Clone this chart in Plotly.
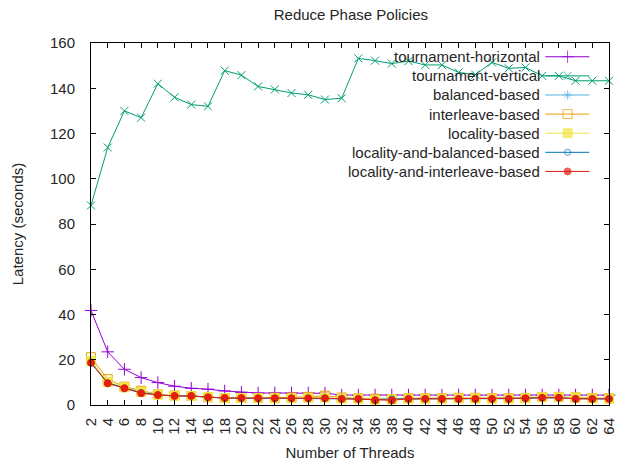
import plotly.graph_objects as go

threads = list(range(2, 65, 2))

tournament_horizontal = [41.8, 23.5, 15.8, 12.1, 9.9, 8.3, 7.4, 7.0, 6.2, 5.6, 5.3, 5.3, 5.3, 5.3, 5.2,
                         4.4, 4.4, 4.4, 4.4, 4.4, 4.4, 4.4, 4.4, 4.4, 4.4, 4.4, 4.4, 4.4, 4.4, 4.4, 4.4, 4.4]
tournament_vertical = [88.2, 113.8, 130.0, 127.0, 142.0, 136.0, 132.8, 132.0, 147.8, 145.8, 140.8, 139.5,
                       137.9, 137.1, 135.0, 135.6, 153.2, 152.2, 150.9, 152.0, 150.3, 150.3, 147.0, 146.0,
                       151.4, 148.8, 149.2, 145.5, 145.5, 143.3, 143.3, 143.3]
balanced_based = [19.0, 9.9, 7.6, 6.0, 4.5, 4.0, 3.9, 3.4, 3.1, 3.0, 3.0, 3.0, 3.0, 3.1, 3.1, 2.8,
                  2.7, 2.3, 2.4, 2.7, 2.7, 2.7, 2.8, 2.8, 2.7, 2.7, 3.0, 3.2, 3.2, 2.9, 2.8, 2.7]
interleave_based = [21.1, 11.4, 8.1, 6.3, 4.7, 4.2, 4.0, 3.4, 3.1, 3.1, 3.1, 3.2, 3.3, 3.6, 4.1, 3.3,
                    3.0, 2.8, 2.6, 3.0, 3.0, 3.0, 3.2, 3.2, 3.0, 3.0, 3.1, 3.6, 3.6, 3.4, 3.1, 3.0]
locality_based = [19.5, 10.2, 7.8, 5.8, 4.6, 4.1, 4.0, 3.5, 3.1, 3.1, 3.0, 3.0, 3.0, 3.2, 3.3, 2.8,
                  2.8, 2.4, 2.5, 2.8, 2.8, 2.8, 2.9, 2.9, 2.8, 2.8, 3.0, 3.4, 3.4, 3.3, 2.9, 2.8]
locality_and_balanced_based = [18.5, 9.8, 7.5, 5.5, 4.5, 4.0, 4.0, 3.4, 3.0, 3.0, 3.0, 3.0, 3.0, 3.0, 3.0, 2.7,
                               2.7, 2.3, 2.7, 2.7, 2.7, 2.7, 2.7, 2.7, 2.7, 2.7, 3.0, 3.2, 3.2, 2.8, 2.7, 2.7]
locality_and_interleave_based = [18.7, 9.6, 7.4, 5.2, 4.4, 4.0, 4.0, 3.4, 3.1, 3.1, 3.0, 3.0, 3.0, 3.0, 3.0, 2.7,
                                 2.7, 2.1, 2.1, 2.7, 2.7, 2.7, 2.7, 2.7, 2.7, 2.7, 3.0, 3.2, 3.2, 2.7, 2.7, 2.7]

y_ticks = [0, 20, 40, 60, 80, 100, 120, 140, 160]
x_ticks = threads

series = [
    ("tournament-horizontal", tournament_horizontal, "#9400d3", "cross-thin-open", 9),
    ("tournament-vertical", tournament_vertical, "#009e73", "x-thin-open", 8),
    ("balanced-based", balanced_based, "#56b4e9", "asterisk-open", 8),
    ("interleave-based", interleave_based, "#e69f00", "square-open", 9),
    ("locality-based", locality_based, "#f0e442", "square", 9),
    ("locality-and-balanced-based", locality_and_balanced_based, "#0072b2", "circle-open", 6),
    ("locality-and-interleave-based", locality_and_interleave_based, "#e51e10", "circle", 7),
]

FONT = "Liberation Sans, Arial, sans-serif"
FS = 15
TXT = "#262626"

fig = go.Figure()
for name, vals, color, sym, size in series:
    fig.add_trace(go.Scatter(
        x=threads, y=vals, name=name, mode="lines+markers",
        line=dict(color=color, width=1),
        marker=dict(symbol=sym, size=size, color=color, line=dict(color=color, width=1)),
        showlegend=False, cliponaxis=False, xaxis="x", yaxis="y",
    ))

# custom gnuplot-style legend (text right-aligned, sample on the right)
leg_x_text = 0.87
leg_x0, leg_x1, leg_xm = 0.877, 0.962, 0.92
leg_top = 0.962
leg_step = 0.0528
for i, (name, vals, color, sym, size) in enumerate(series):
    yy = leg_top - i * leg_step
    fig.add_trace(go.Scatter(
        x=[leg_x0, leg_xm, leg_x1], y=[yy, yy, yy], mode="lines+markers",
        line=dict(color=color, width=1),
        marker=dict(symbol=sym, size=[0, size, 0], color=color, line=dict(color=color, width=1)),
        showlegend=False, hoverinfo="skip", xaxis="x2", yaxis="y2",
    ))
    fig.add_annotation(x=leg_x_text, y=yy, xref="x2", yref="y2", text=name, showarrow=False,
                       xanchor="right", yanchor="middle", font=dict(family=FONT, size=FS, color=TXT))

fig.update_layout(
    width=621, height=464,
    margin=dict(l=91, r=4, t=43, b=59),
    paper_bgcolor="white", plot_bgcolor="white",
    font=dict(family=FONT, size=FS, color=TXT),
    title=dict(text="Reduce Phase Policies", x=0.565, xanchor="center", y=0.968, yanchor="middle",
               font=dict(family=FONT, size=FS, color=TXT)),
    xaxis=dict(range=[2, 64], tickvals=x_ticks, ticktext=[str(v) for v in x_ticks], tickangle=-90,
               ticks="inside", ticklen=5, tickcolor="#000", showline=True, linecolor="#000", linewidth=1,
               mirror="ticks", showgrid=False, zeroline=False, ticklabelstandoff=6,
               ticklabeloverflow="allow",
               title=dict(text="Number of Threads", standoff=13, font=dict(family=FONT, size=FS, color=TXT))),
    yaxis=dict(range=[0, 160], tickvals=y_ticks, ticks="inside", ticklen=5, tickcolor="#000",
               showline=True, linecolor="#000", linewidth=1, mirror="ticks", showgrid=False,
               zeroline=False, ticklabelstandoff=12, ticklabeloverflow="allow",
               title=dict(text="Latency (seconds)", standoff=22, font=dict(family=FONT, size=FS, color=TXT))),
    xaxis2=dict(range=[0, 1], overlaying="x", visible=False, fixedrange=True),
    yaxis2=dict(range=[0, 1], overlaying="y", visible=False, fixedrange=True),
)

fig.write_html("out.html")
